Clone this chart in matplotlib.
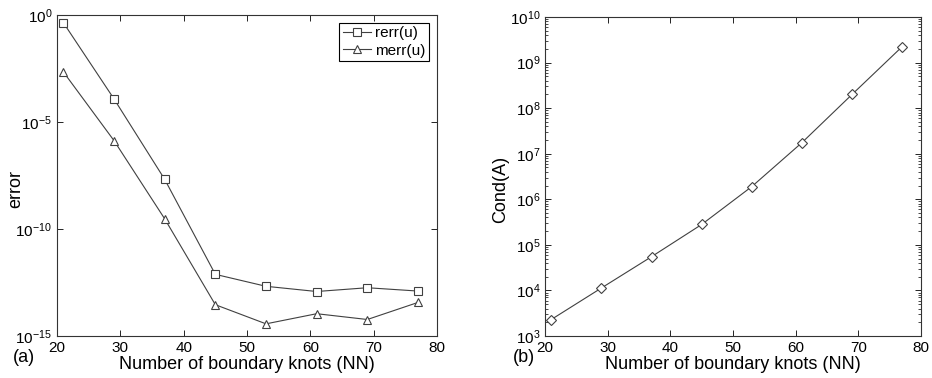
import matplotlib.pyplot as plt
from matplotlib.ticker import LogLocator, FixedLocator, NullFormatter

plt.rcParams['font.family'] = ['Liberation Sans', 'DejaVu Sans']
plt.rcParams['mathtext.fontset'] = 'custom'
plt.rcParams['mathtext.rm'] = 'Liberation Sans'
plt.rcParams['mathtext.default'] = 'regular'

# boundary knots
nn = [21, 29, 37, 45, 53, 61, 69, 77]

# errors (panel a)
rerr = [4.4e-1, 1.2e-4, 2.1e-8, 7.6e-13, 2.1e-13, 1.2e-13, 1.8e-13, 1.26e-13]
merr = [2.2e-3, 1.35e-6, 3.0e-10, 2.9e-14, 3.7e-15, 1.1e-14, 5.9e-15, 3.7e-14]

# condition number (panel b)
cond = [2.3e3, 1.13e4, 5.5e4, 2.8e5, 1.9e6, 1.75e7, 2.0e8, 2.24e9]

lc = '#404040'

fig = plt.figure(figsize=(9.32, 3.78), dpi=100)
ax1 = fig.add_axes([57/932, 1-336/378, 380/932, 321/378])
ax2 = fig.add_axes([545/932, 1-336/378, 376/932, 319/378])

ax1.semilogy(nn, rerr, color=lc, lw=0.8, marker='s', ms=5.2, mfc='white', mec=lc, mew=0.8, label='rerr(u)')
ax1.semilogy(nn, merr, color=lc, lw=0.8, marker='^', ms=6, mfc='white', mec=lc, mew=0.8, label='merr(u)')
ax1.set_xlim(20, 80)
ax1.set_ylim(1e-15, 1e0)
ax1.yaxis.set_major_locator(FixedLocator([1e-15, 1e-10, 1e-5, 1e0]))
ax1.yaxis.set_minor_locator(FixedLocator([]))
ax1.set_yticklabels([r'$10^{-15}$', r'$10^{-10}$', r'$10^{-5}$', r'$10^{0}$'])
ax1.set_ylabel('error', fontsize=13)
ax1.yaxis.set_label_coords(24/932, 0.5, transform=fig.transFigure)
ax1.set_xlabel('Number of boundary knots (NN)', fontsize=13, labelpad=1)
leg = ax1.legend(loc='upper right', fontsize=11, fancybox=False, edgecolor='black',
                 framealpha=1, handlelength=1.8, handletextpad=0.3, borderpad=0.25,
                 labelspacing=0.2, borderaxespad=0.5)
leg.get_frame().set_linewidth(0.8)
fig.text(13/932, 1-357/378, '(a)', fontsize=13, va='center')

ax2.semilogy(nn, cond, color=lc, lw=0.8, marker='D', ms=5, mfc='white', mec=lc, mew=0.8)
ax2.set_xlim(20, 80)
ax2.set_ylim(1e3, 1e10)
ax2.yaxis.set_major_locator(LogLocator(base=10, numticks=20))
ax2.yaxis.set_minor_locator(LogLocator(base=10, subs=range(2, 10), numticks=20))
ax2.yaxis.set_minor_formatter(NullFormatter())
ax2.set_yticks([10.0**k for k in range(3, 11)])
ax2.set_yticklabels([r'$10^{%d}$' % k for k in range(3, 11)])
ax2.set_ylabel('Cond(A)', fontsize=13)
ax2.yaxis.set_label_coords(509/932, 0.5, transform=fig.transFigure)
ax2.set_xlabel('Number of boundary knots (NN)', fontsize=13, labelpad=1)
fig.text(513/932, 1-357/378, '(b)', fontsize=13, va='center')

for ax in (ax1, ax2):
    ax.set_xticks([20, 30, 40, 50, 60, 70, 80])
    ax.tick_params(which='both', direction='in', top=True, right=True, labelsize=11, colors='black')
    ax.tick_params(which='major', length=4, width=0.6)
    ax.tick_params(which='minor', length=2, width=0.5)
    for s in ax.spines.values():
        s.set_linewidth(0.8)
        s.set_color('#333333')

fig.savefig('out.png', dpi=100)
